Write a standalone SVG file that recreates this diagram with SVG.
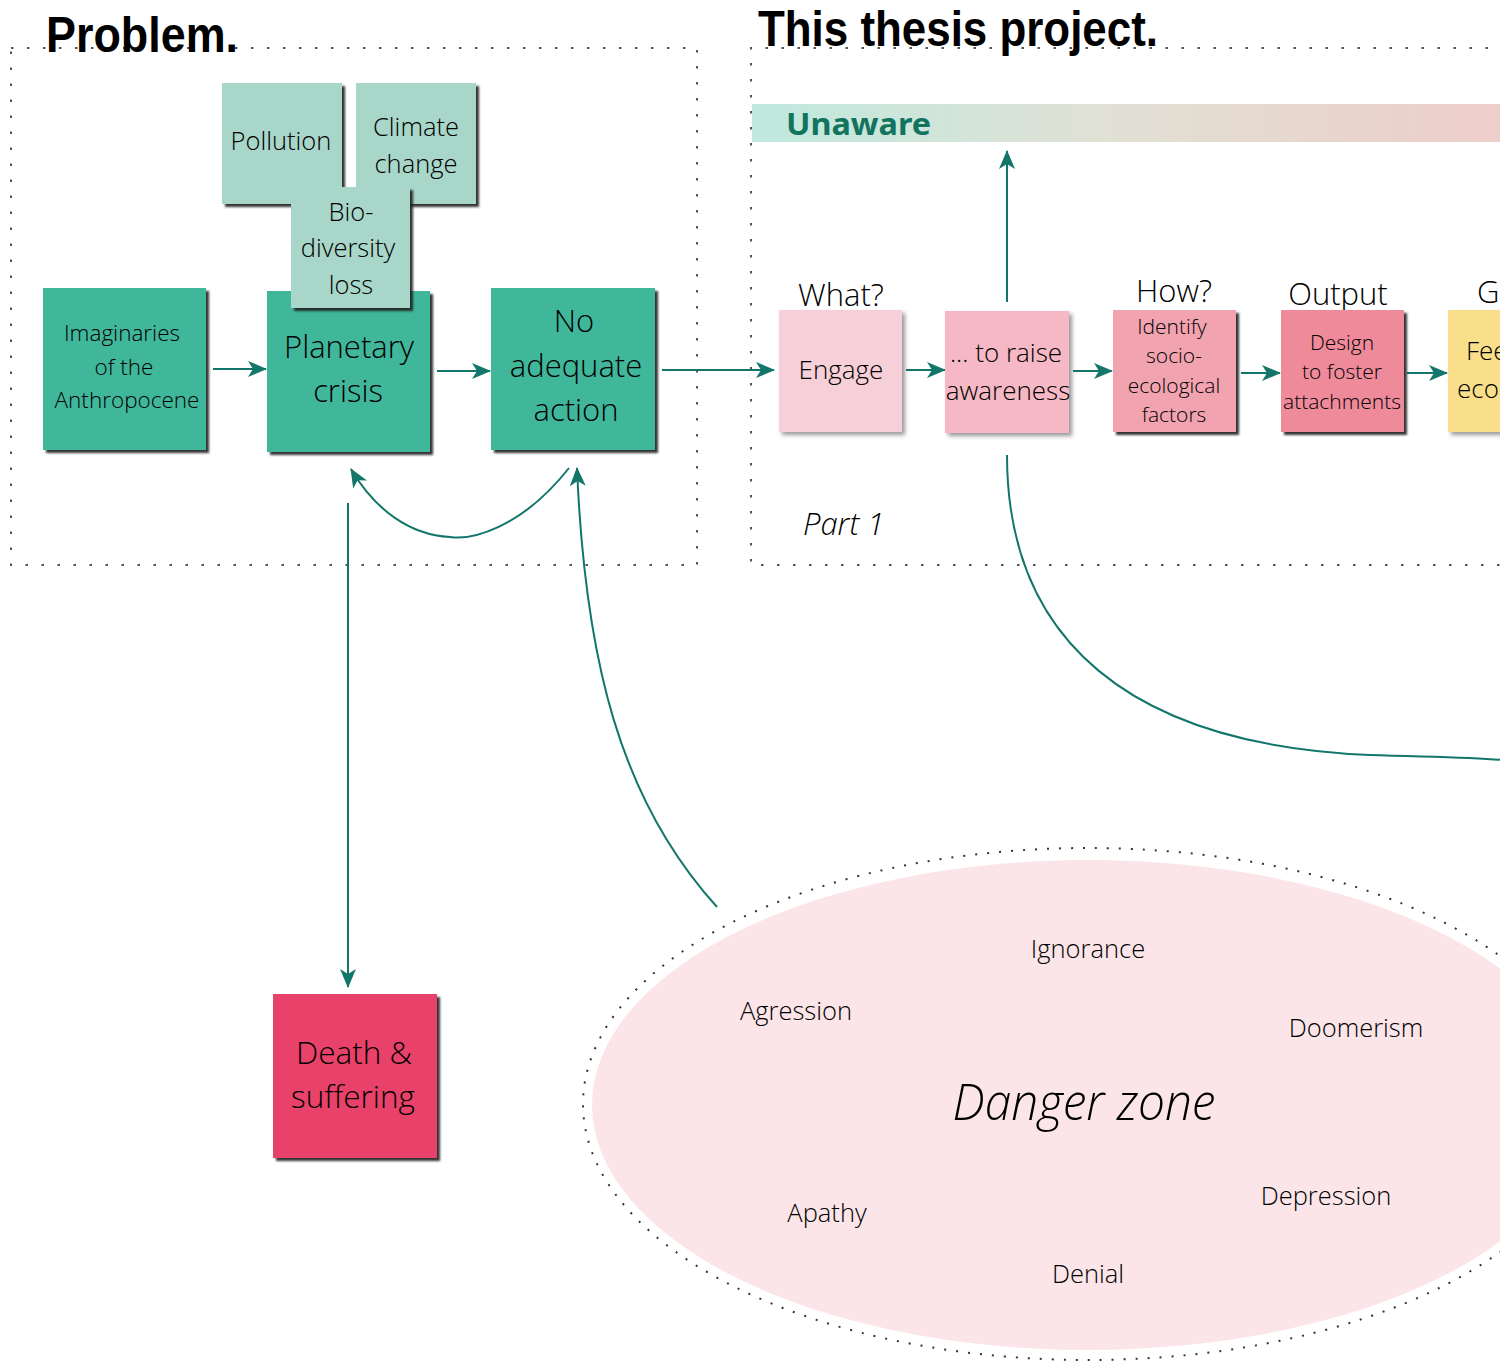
<svg xmlns="http://www.w3.org/2000/svg" width="1500" height="1365" viewBox="0 0 1500 1365">
  <defs>
    <style>
      .title { font-family: "Liberation Sans", Arial, sans-serif; font-weight: bold; fill: #000; }
      .lbl { font-family: "Open Sans", "Noto Sans", sans-serif; font-weight: 300; fill: #000; text-anchor: middle; }
      .start { text-anchor: start; }
      .it { font-family: "Open Sans", "Noto Sans", sans-serif; font-weight: 300; font-style: italic; fill: #000; }
      .frame { fill: none; stroke: #555; stroke-width: 2; stroke-dasharray: 2.5 13.5; }
      .conn { fill: none; stroke: #12766a; stroke-width: 2; }
      .dark { fill: #41b79a; }
      .light { fill: #a8d6c9; }
    </style>
    <marker id="arr" viewBox="0 0 19 16" refX="18" refY="8" markerWidth="19" markerHeight="16" markerUnits="userSpaceOnUse" orient="auto">
      <path d="M0,0 L19,8 L0,16 L5,8 z" fill="#12766a"/>
    </marker>
    <filter id="sh" x="-10%" y="-10%" width="130%" height="130%">
      <feDropShadow dx="3" dy="3" stdDeviation="1" flood-color="#1a1a1a" flood-opacity="0.9"/>
    </filter>
    <filter id="shs" x="-10%" y="-10%" width="130%" height="130%">
      <feDropShadow dx="3" dy="3" stdDeviation="2" flood-color="#555" flood-opacity="0.6"/>
    </filter>
    <linearGradient id="band" x1="0" y1="0" x2="1" y2="0">
      <stop offset="0" stop-color="#bfe9df"/>
      <stop offset="0.45" stop-color="#e0e1d5"/>
      <stop offset="1" stop-color="#eecdc9"/>
    </linearGradient>
  </defs>

  <rect width="1500" height="1365" fill="#fff"/>

  <!-- dotted section frames -->
  <g id="frames">
    <rect class="frame" x="11" y="48" width="686" height="517"/>
    <path class="frame" d="M1520,48 L751,48 L751,565 L1520,565"/>
  </g>

  <!-- section titles -->
  <text class="title" x="46" y="52" font-size="50" textLength="192" lengthAdjust="spacingAndGlyphs">Problem.</text>
  <text class="title" x="758" y="46" font-size="50" textLength="400" lengthAdjust="spacingAndGlyphs">This thesis project.</text>

  <!-- awareness band -->
  <g id="unaware">
    <rect x="752" y="104" width="760" height="38" fill="url(#band)"/>
    <text x="786" y="135" font-family="'Noto Sans', 'Open Sans', sans-serif" font-weight="bold" font-size="30" fill="#12735f" textLength="145" lengthAdjust="spacingAndGlyphs">Unaware</text>
  </g>

  <!-- danger zone -->
  <g id="danger-zone">
    <ellipse cx="1088" cy="1105" rx="496" ry="245" fill="#fbe5e9"/>
    <ellipse cx="1088" cy="1104" rx="505" ry="256" fill="none" stroke="#333" stroke-width="2" stroke-dasharray="2 10"/>
    <text class="it" x="1084" y="1120" font-size="50" text-anchor="middle" textLength="263" lengthAdjust="spacingAndGlyphs">Danger zone</text>
    <text class="lbl" x="1088" y="958" font-size="25.5">Ignorance</text>
    <text class="lbl" x="796" y="1020" font-size="25.5">Agression</text>
    <text class="lbl" x="1356" y="1037" font-size="25.5">Doomerism</text>
    <text class="lbl" x="827" y="1222" font-size="25.5">Apathy</text>
    <text class="lbl" x="1326" y="1205" font-size="25.5">Depression</text>
    <text class="lbl" x="1088" y="1283" font-size="25.5">Denial</text>
  </g>

  <!-- connectors -->
  <g id="connectors">
    <line class="conn" x1="213" y1="369" x2="266" y2="369" marker-end="url(#arr)"/>
    <line class="conn" x1="437" y1="371" x2="490" y2="371" marker-end="url(#arr)"/>
    <line class="conn" x1="662" y1="370" x2="774" y2="370" marker-end="url(#arr)"/>
    <line class="conn" x1="906" y1="370" x2="945" y2="370" marker-end="url(#arr)"/>
    <line class="conn" x1="1073" y1="371" x2="1112" y2="371" marker-end="url(#arr)"/>
    <line class="conn" x1="1241" y1="373" x2="1280" y2="373" marker-end="url(#arr)"/>
    <line class="conn" x1="1407" y1="373" x2="1447" y2="373" marker-end="url(#arr)"/>
    <line class="conn" x1="1007" y1="302" x2="1007" y2="151" marker-end="url(#arr)"/>
    <line class="conn" x1="348" y1="503" x2="348" y2="987" marker-end="url(#arr)"/>
    <path class="conn" d="M569,468 C520,530 470,540 450,537 C410,535 375,510 351,469" marker-end="url(#arr)"/>
    <path class="conn" d="M717,907 C620,800 585,660 577,468" marker-end="url(#arr)"/>
    <path class="conn" d="M1007,455 C1007,640 1130,745 1370,755 C1430,757 1470,757 1502,760"/>
  </g>

  <!-- problem nodes -->
  <g id="imaginaries">
    <rect class="dark" x="43" y="288" width="163" height="162" filter="url(#sh)"/>
    <text class="lbl" font-size="22.5"><tspan x="122" y="341">Imaginaries</tspan><tspan x="124" y="375">of the</tspan><tspan x="127" y="408">Anthropocene</tspan></text>
  </g>
  <g id="planetary-crisis">
    <rect class="dark" x="267" y="291" width="163" height="161" filter="url(#sh)"/>
    <text class="lbl" font-size="31"><tspan x="349" y="358">Planetary</tspan><tspan x="348" y="402">crisis</tspan></text>
  </g>
  <g id="no-action">
    <rect class="dark" x="491" y="288" width="164" height="162" filter="url(#sh)"/>
    <text class="lbl" font-size="31"><tspan x="574" y="332">No</tspan><tspan x="576" y="377">adequate</tspan><tspan x="576" y="421">action</tspan></text>
  </g>
  <g id="pollution">
    <rect class="light" x="222" y="83" width="120" height="121" filter="url(#sh)"/>
    <text class="lbl" x="281" y="150" font-size="25.5">Pollution</text>
  </g>
  <g id="climate-change">
    <rect class="light" x="356" y="83" width="120" height="121" filter="url(#sh)"/>
    <text class="lbl" font-size="25.5"><tspan x="416" y="136">Climate</tspan><tspan x="416" y="173">change</tspan></text>
  </g>
  <g id="biodiversity-loss">
    <rect class="light" x="291" y="187" width="119" height="121" filter="url(#sh)"/>
    <text class="lbl" font-size="25.5"><tspan x="351" y="221">Bio-</tspan><tspan x="348" y="257">diversity</tspan><tspan x="351" y="294">loss</tspan></text>
  </g>
  <g id="death-suffering">
    <rect x="273" y="994" width="164" height="164" fill="#e8436a" filter="url(#sh)"/>
    <text class="lbl" font-size="31.5"><tspan x="354" y="1064">Death &amp;</tspan><tspan x="353" y="1108">suffering</tspan></text>
  </g>

  <!-- thesis nodes -->
  <g id="step-labels">
    <text class="lbl" x="841" y="306" font-size="31">What?</text>
    <text class="lbl" x="1174" y="302" font-size="31">How?</text>
    <text class="lbl" x="1338" y="305" font-size="31">Output</text>
    <text class="lbl start" x="1477" y="303" font-size="31">G</text>
    <text class="it" x="803" y="535" font-size="31">Part 1</text>
  </g>
  <g id="engage">
    <rect x="779" y="310" width="123" height="122" fill="#f7cfd8" filter="url(#shs)"/>
    <text class="lbl" x="841" y="379" font-size="26">Engage</text>
  </g>
  <g id="raise-awareness">
    <rect x="945" y="311" width="124" height="122" fill="#f5b8c4" filter="url(#shs)"/>
    <text class="lbl" font-size="26"><tspan x="1006" y="362">... to raise</tspan><tspan x="1008" y="400">awareness</tspan></text>
  </g>
  <g id="identify">
    <rect x="1113" y="310" width="123" height="122" fill="#f2a3b0" filter="url(#sh)"/>
    <text class="lbl" font-size="21"><tspan x="1172" y="334">Identify</tspan><tspan x="1174" y="363">socio-</tspan><tspan x="1174" y="393">ecological</tspan><tspan x="1174" y="422">factors</tspan></text>
  </g>
  <g id="design">
    <rect x="1281" y="310" width="123" height="122" fill="#ef8a9b" filter="url(#sh)"/>
    <text class="lbl" font-size="21"><tspan x="1342" y="350">Design</tspan><tspan x="1342" y="379">to foster</tspan><tspan x="1342" y="409">attachments</tspan></text>
  </g>
  <g id="feel">
    <rect x="1448" y="310" width="70" height="122" fill="#f9df8a" filter="url(#shs)"/>
    <text class="lbl start" font-size="26"><tspan x="1466" y="360">Fee</tspan><tspan x="1457" y="398">eco-</tspan></text>
  </g>
</svg>
